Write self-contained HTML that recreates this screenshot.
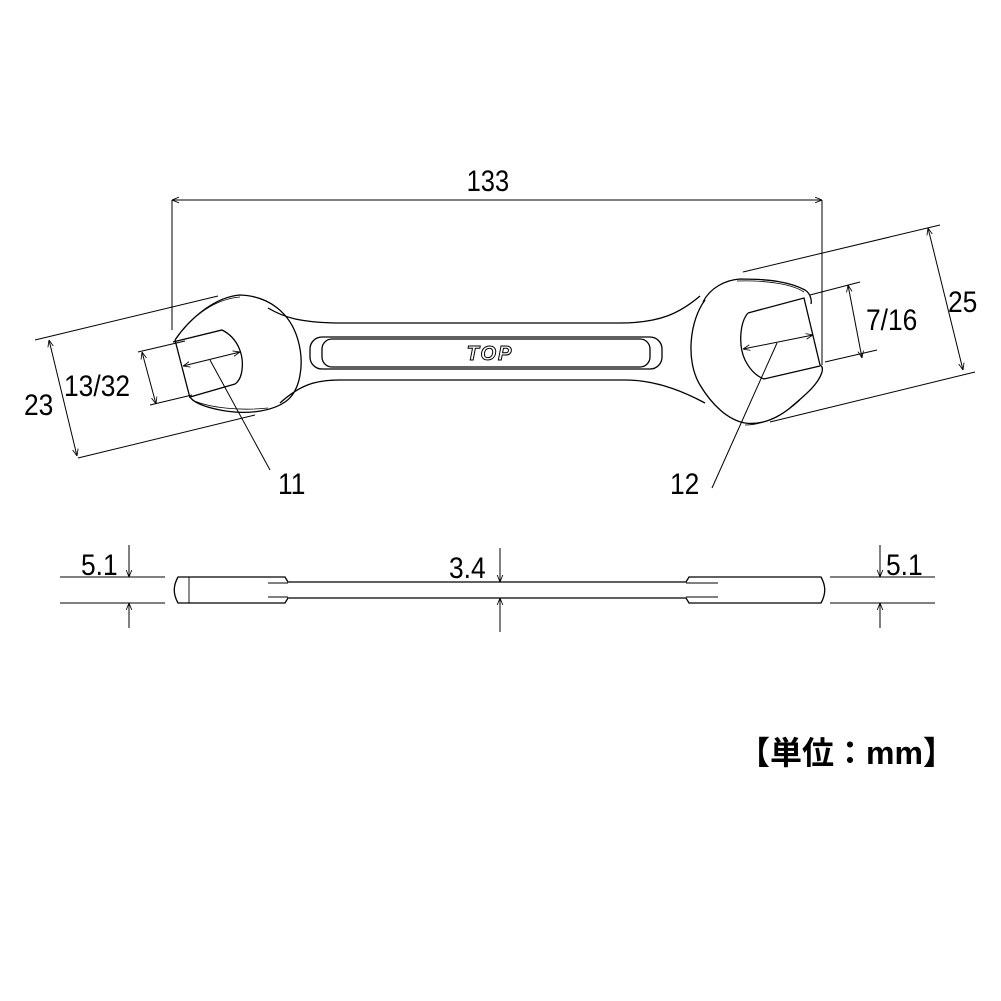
<!DOCTYPE html>
<html><head><meta charset="utf-8"><style>
html,body{margin:0;padding:0;background:#fff;}
svg{display:block}
text{font-family:"Liberation Sans","Noto Sans CJK JP",sans-serif;fill:#000}
</style></head><body>
<svg width="1001" height="1001" viewBox="0 0 1001 1001" xmlns="http://www.w3.org/2000/svg">
<defs>
<marker id="a" viewBox="0 0 10 10" refX="10" refY="5" markerWidth="7" markerHeight="7" orient="auto-start-reverse" markerUnits="userSpaceOnUse"><path d="M0,1 L10,5 L0,9" fill="none" stroke="#000" stroke-width="1.2"/></marker>
</defs>
<g fill="none" stroke="#000" stroke-width="1.3">
<path d="M175,340 C190,318 215,297 240,295 C268,296 290,312 298,340 C305,365 300,392 285,402 C270,412 245,415 220,410 C205,407 194,403 190,397"/>
<path d="M177,337 C192,316 215,299 240,297" stroke-width="0.8"/>
<path d="M192,400 C210,408 240,411 268,408" stroke-width="0.8"/>
<path d="M175,340 L190,398 M173,342 L222,330 C238,338 244,355 242,370 C241,378 238,382 235,384 L190,397"/>
<path d="M268,308 C285,318 300,322 335,323 L620,323 C660,323 680,313 700,296"/>
<path d="M280,403 C300,385 315,380 340,380 L625,380 C660,380 690,395 705,403"/>
<rect x="310" y="337" width="352" height="32" rx="12"/>
<rect x="322" y="339" width="328" height="28" rx="10"/>
<path d="M703,302 C710,288 725,280 740,279 C770,279 790,282 805,290 C810,293 812,300 811,304"/>
<path d="M737,281 C765,280 792,284 804,292" stroke-width="0.8"/>
<path d="M705,300 C690,320 685,360 700,385 C712,405 728,420 745,423 C760,425 775,420 790,408 C805,395 818,385 822,372 C823,368 822,366 820,365"/>
<path d="M745,425 C765,425 785,414 800,400" stroke-width="0.8"/>
<path d="M748,313 L804,298 L820,365 M748,313 C740,322 738,345 745,360 C750,370 756,376 764,379 L820,366"/>
<path d="M178,577 L285,577 L288,582 L686,582 L689,577 L821,577 C826,586 826,594 821,603 L689,603 L686,598 L288,598 L285,603 L178,603 C173,594 173,586 178,577 Z"/>
<path d="M189,577 L189,603 M268,583 L288,583 M268,597 L288,597 M686,583 L718,583 M686,597 L718,597" stroke-width="0.9"/>
</g>
<g fill="none" stroke="#000" stroke-width="1">
<path d="M172,200 L172,330 M822,200 L822,365"/>
<path d="M172,200 L822,200" marker-start="url(#a)" marker-end="url(#a)"/>
<path d="M35,340 L218,296 M78,458 L255,415"/>
<path d="M49,340 L77,456" marker-start="url(#a)" marker-end="url(#a)"/>
<path d="M138,352 L185,341 M150,405 L192,395"/>
<path d="M142,352 L156,404" marker-start="url(#a)" marker-end="url(#a)"/>
<path d="M183,366 L240,352" marker-start="url(#a)" marker-end="url(#a)"/>
<path d="M210,360 L270,470"/>
<path d="M743,272 L940,225 M770,422 L975,372"/>
<path d="M928,228 L963,370" marker-start="url(#a)" marker-end="url(#a)"/>
<path d="M810,295 L860,282 M825,362 L877,350"/>
<path d="M848,285 L862,358" marker-start="url(#a)" marker-end="url(#a)"/>
<path d="M743,349 L813,335" marker-start="url(#a)" marker-end="url(#a)"/>
<path d="M777,343 L712,488"/>
<path d="M60,577 L165,577 M60,603 L165,603 M830,577 L935,577 M830,603 L935,603"/>
<path d="M129,545 L129,577" marker-end="url(#a)"/>
<path d="M129,628 L129,603" marker-end="url(#a)"/>
<path d="M500,548 L500,582" marker-end="url(#a)"/>
<path d="M500,632 L500,598" marker-end="url(#a)"/>
<path d="M880,545 L880,577" marker-end="url(#a)"/>
<path d="M880,628 L880,603" marker-end="url(#a)"/>
</g>
<text x="490" y="360" font-size="20" font-weight="bold" font-style="italic" text-anchor="middle" style="fill:#fff;stroke:#000;stroke-width:1;letter-spacing:2px">TOP</text>
<g font-size="30" text-anchor="middle">
<text x="488" y="191" transform="scale(0.85,1) translate(86,0)">133</text>
</g>
<g font-size="30">
<text x="24" y="415" transform="translate(24,0) scale(0.88,1) translate(-24,0)">23</text>
<text x="64" y="396" transform="translate(64,0) scale(0.88,1) translate(-64,0)">13/32</text>
<text x="278" y="494" transform="translate(278,0) scale(0.88,1) translate(-278,0)">11</text>
<text x="670" y="494" transform="translate(670,0) scale(0.88,1) translate(-670,0)">12</text>
<text x="948" y="312" transform="translate(948,0) scale(0.88,1) translate(-948,0)">25</text>
<text x="866" y="330" transform="translate(866,0) scale(0.88,1) translate(-866,0)">7/16</text>
<text x="81" y="575" transform="translate(81,0) scale(0.88,1) translate(-81,0)">5.1</text>
<text x="449" y="578" transform="translate(449,0) scale(0.88,1) translate(-449,0)">3.4</text>
<text x="886" y="575" transform="translate(886,0) scale(0.88,1) translate(-886,0)">5.1</text>
</g>
<text x="738" y="764" font-size="32" font-weight="bold">【単位：mm】</text>
</svg>
</body></html>
